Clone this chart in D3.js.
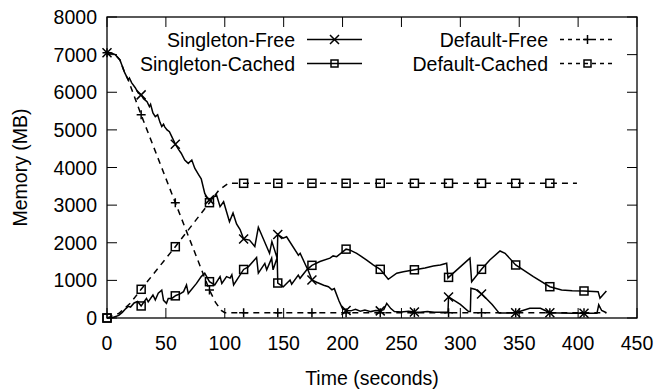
<!DOCTYPE html>
<html><head><meta charset="utf-8">
<script src="https://cdn.jsdelivr.net/npm/d3@7/dist/d3.min.js"></script>
<style>body{margin:0;background:#fff}svg{display:block}text{font-family:"Liberation Sans",Arial,sans-serif;fill:#000}</style>
</head><body><svg id="c" width="657" height="391"></svg>
<script>
const xTicks = [0,50,100,150,200,250,300,350,400,450];
const yTicks = [0,1000,2000,3000,4000,5000,6000,7000,8000];
const xLabel = "Time (seconds)";
const yLabel = "Memory (MB)";
const seriesNames = ["Singleton-Free","Singleton-Cached","Default-Free","Default-Cached"];
const markerTimes = [0,29,58,87,116,145,174,203,232,261,290,318,347,376,405];

const singletonFree = [[0,7050],[4,7040],[7,7000],[11,6860],[15,6520],[18,6330],[19,6380],[21,6250],[24,6120],[26.5,5980],[29,5930],[31,5830],[34,5750],[36,5620],[37,5680],[39,5450],[41,5350],[43,5400],[45,5200],[46.5,5090],[48,5150],[49,5080],[51,5000],[53,4950],[55,4820],[58,4620],[61,4470],[63,4380],[66,4200],[69,4110],[72,4200],[74.5,3980],[78,3800],[80,3700],[83,3310],[85,3200],[87,3140],[90,3200],[93,3270],[96,2960],[99,3090],[104,2560],[107,2790],[110,2500],[113,2350],[116,2100],[121,2070],[125.5,1900],[128.5,2410],[138,1720],[140,2030],[144.5,1590],[145,2220],[149.5,2120],[152.5,2160],[162.5,1670],[164,1720],[168,1450],[171,1250],[174,1010],[178,950],[184,870],[188,830],[191,750],[193,780],[197,450],[200,250],[203,200],[207,190],[211,230],[215,180],[219,210],[224,170],[228,200],[232,190],[235,220],[237.5,390],[241,250],[244,170],[250,160],[256,180],[261,160],[266,150],[272,170],[278,150],[284,150],[289.5,150],[290,560],[294,480],[300,360],[307,170],[308.5,170],[309,790],[313,760],[318,640],[322,520],[327,360],[333,130],[340,130],[347,140],[353,200],[359,260],[368,260],[372,200],[376,140],[385,130],[395,125],[405,125],[416,125],[417.5,350],[420,200],[424,140]];

const singletonCached = [[0,0],[5,15],[10,70],[13,150],[16,250],[18,310],[20,290],[23,400],[26,440],[29,320],[33.5,520],[35,430],[39,610],[41,480],[43.5,660],[46.5,740],[48,470],[50.5,390],[52,520],[55,520],[58.5,600],[62,640],[65,700],[67.5,880],[69,650],[76,920],[80,1100],[83,1190],[87,965],[91.5,880],[96,1100],[97.5,920],[101.5,1100],[104.5,1060],[106,1150],[107.5,880],[116,1290],[120,1360],[127,1610],[128.5,1190],[134,1450],[135.6,1280],[139.8,1590],[141,1280],[144.5,1610],[145,930],[149.7,830],[155.4,1010],[156.8,900],[162.4,1140],[163.9,1055],[169.6,1280],[174,1400],[180.8,1500],[189.3,1590],[192,1650],[195,1630],[203,1830],[206,1810],[212,1720],[220.5,1540],[226,1410],[232,1294],[238.8,1030],[246,1190],[251.6,1232],[260,1276],[270,1330],[277,1382],[283,1410],[288.4,1454],[289.5,1060],[290,1080],[308.2,1590],[309.6,965],[318,1294],[325,1542],[333.7,1781],[338,1720],[347,1409],[362,1098],[376,832],[386,744],[395,725],[405,718],[417,700],[418.6,524],[424,718]];

const defaultFree = [[0,7050],[4,7040],[7,7000],[11,6860],[15,6520],[18,6330],[22,5990],[29,5400],[58,3065],[87,744],[92,420],[97,200],[100,140],[424,140]];

const defaultCached = [[0,0],[10,120],[20,400],[29,763],[58,1895],[87,3065],[95,3400],[103,3580],[399,3580]];

const svg = d3.select("#c");
const x = d3.scaleLinear().domain([0,450]).range([107,637]);
const y = d3.scaleLinear().domain([0,8000]).range([318,17]);
const FS = 19.5;

// ticks inward on all sides
const tg = svg.append("g").attr("stroke","#000").attr("stroke-width",1);
xTicks.forEach(t=>{
  tg.append("line").attr("x1",x(t)).attr("x2",x(t)).attr("y1",y(0)).attr("y2",y(0)-10);
  tg.append("line").attr("x1",x(t)).attr("x2",x(t)).attr("y1",y(8000)).attr("y2",y(8000)+10);
});
yTicks.forEach(t=>{
  tg.append("line").attr("x1",x(0)).attr("x2",x(0)+10).attr("y1",y(t)).attr("y2",y(t));
  tg.append("line").attr("x1",x(450)).attr("x2",x(450)-10).attr("y1",y(t)).attr("y2",y(t));
});
svg.append("rect").attr("x",x(0)).attr("y",y(8000)).attr("width",x(450)-x(0)).attr("height",y(0)-y(8000))
  .attr("fill","none").attr("stroke","#000").attr("stroke-width",1.3);

svg.append("g").selectAll("text").data(xTicks).join("text")
  .attr("x",d=>x(d)).attr("y",350).attr("text-anchor","middle").attr("font-size",FS).text(d=>d);
svg.append("g").selectAll("text").data(yTicks).join("text")
  .attr("x",97).attr("y",d=>y(d)).attr("dy","0.36em").attr("text-anchor","end").attr("font-size",FS).text(d=>d);
svg.append("text").attr("x",(x(0)+x(450))/2).attr("y",385).attr("text-anchor","middle").attr("font-size",FS).text(xLabel);
svg.append("text").attr("transform",`translate(27,${(y(0)+y(8000))/2}) rotate(-90)`).attr("text-anchor","middle").attr("font-size",FS).text(yLabel);

const line = d3.line().x(d=>x(d[0])).y(d=>y(d[1]));
function valueAt(data,t){
  const i = d3.bisector(d=>d[0]).left(data,t);
  if(i<=0) return data[0][1];
  if(i>=data.length) return null;
  const a=data[i-1], b=data[i];
  if(b[0]===t) return b[1];
  return a[1]+(b[1]-a[1])*(t-a[0])/(b[0]-a[0]);
}
function marker(g,type,cx,cy,s){
  if(type==="x"){
    g.append("path").attr("d",`M${cx-s},${cy-s}L${cx+s},${cy+s}M${cx-s},${cy+s}L${cx+s},${cy-s}`);
  } else if(type==="plus"){
    g.append("path").attr("d",`M${cx-s},${cy}L${cx+s},${cy}M${cx},${cy-s}L${cx},${cy+s}`);
  } else {
    g.append("rect").attr("x",cx-s).attr("y",cy-s).attr("width",2*s).attr("height",2*s).attr("fill","none");
  }
}
const series = [
  {name:seriesNames[0],data:singletonFree,dash:null,mk:"x"},
  {name:seriesNames[1],data:singletonCached,dash:null,mk:"sq"},
  {name:seriesNames[2],data:defaultFree,dash:"6,5",mk:"plus"},
  {name:seriesNames[3],data:defaultCached,dash:"6,5",mk:"sq"}
];
series.forEach(s=>{
  const g = svg.append("g").attr("fill","none").attr("stroke","#000").attr("stroke-width",1.5);
  const p = g.append("path").attr("d",line(s.data));
  if(s.dash) p.attr("stroke-dasharray",s.dash);
  const mg = g.append("g").attr("stroke-width",1.5);
  const last = s.data[s.data.length-1][0];
  markerTimes.filter(t=>t<=last).forEach(t=>{
    const v = valueAt(s.data,t);
    marker(mg,s.mk,x(t),y(v),s.mk==="sq"?4:4.5);
  });
});

// legend
const leg = [
  {s:series[0],tx:295,ty:39.5,x1:307,x2:362},
  {s:series[1],tx:295,ty:63.5,x1:307,x2:362},
  {s:series[2],tx:548,ty:39.5,x1:560,x2:615},
  {s:series[3],tx:548,ty:63.5,x1:560,x2:615}
];
leg.forEach(l=>{
  svg.append("text").attr("x",l.tx).attr("y",l.ty).attr("dy","0.36em").attr("text-anchor","end").attr("font-size",FS).text(l.s.name);
  const g = svg.append("g").attr("fill","none").attr("stroke","#000").attr("stroke-width",1.5);
  const ln = g.append("line").attr("x1",l.x1).attr("x2",l.x2).attr("y1",l.ty).attr("y2",l.ty);
  if(l.s.dash) ln.attr("stroke-dasharray","4,4");
  marker(g,l.s.mk,(l.x1+l.x2)/2,l.ty,l.s.mk==="sq"?3.5:4.5);
});
</script></body></html>
